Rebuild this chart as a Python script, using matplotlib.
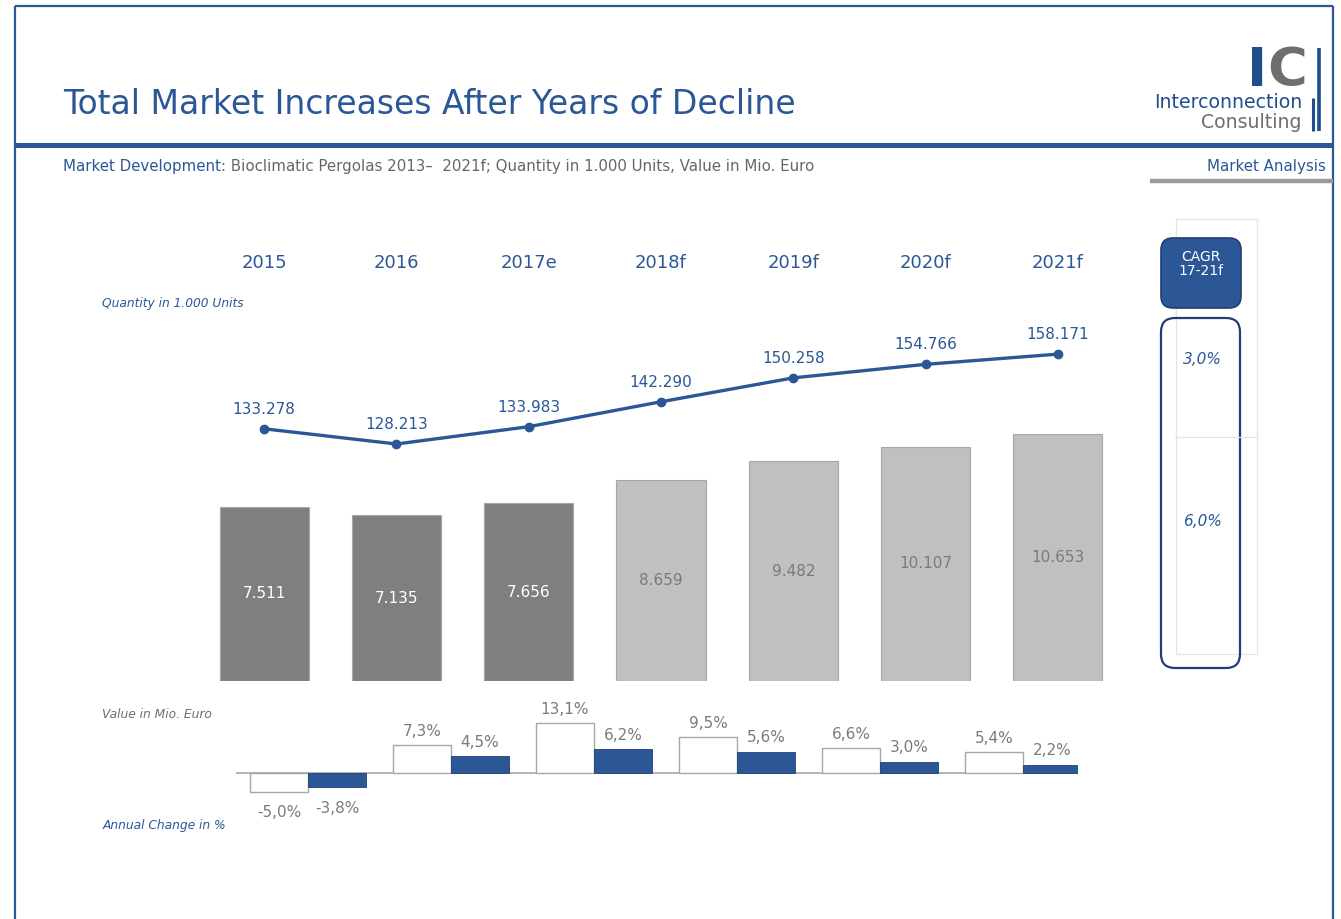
import matplotlib
matplotlib.use("Agg")
import matplotlib.pyplot as plt
from matplotlib.patches import Rectangle, FancyBboxPatch
import numpy as np

# ---------------- data ----------------
years = ["2015", "2016", "2017e", "2018f", "2019f", "2020f", "2021f"]
quantity = [133.278, 128.213, 133.983, 142.290, 150.258, 154.766, 158.171]
value = [7.511, 7.135, 7.656, 8.659, 9.482, 10.107, 10.653]
quantity_labels = ["133.278", "128.213", "133.983", "142.290", "150.258", "154.766", "158.171"]
value_labels = ["7.511", "7.135", "7.656", "8.659", "9.482", "10.107", "10.653"]
is_forecast = [False, False, False, True, True, True, True]

value_change = [-5.0, 7.3, 13.1, 9.5, 6.6, 5.4]
quantity_change = [-3.8, 4.5, 6.2, 5.6, 3.0, 2.2]

cagr_quantity = "3,0%"
cagr_value = "6,0%"

# ---------------- style ----------------
BLUE = "#2b5797"
DARKBLUE = "#1f3f73"
GRAY_TXT = "#7a7a7a"
DARK_BAR = "#7f7f7f"
LIGHT_BAR = "#c0c0c0"
W, H = 1341, 919

plt.rcParams["font.family"] = ["DejaVu Sans"]

fig = plt.figure(figsize=(W / 100, H / 100), dpi=100)


def px_axes(x0, y0, x1, y1):
    return fig.add_axes([x0 / W, 1 - y1 / H, (x1 - x0) / W, (y1 - y0) / H])


# background / decoration axes in pixel coordinates
bg = fig.add_axes([0, 0, 1, 1])
bg.set_xlim(0, W)
bg.set_ylim(H, 0)
bg.axis("off")

# frame
bg.plot([15, 15], [6, H], color=BLUE, lw=1.6, solid_capstyle="butt")
bg.plot([15, 1333], [6, 6], color=BLUE, lw=1.6, solid_capstyle="butt")
bg.plot([1333, 1333], [6, H], color=BLUE, lw=1.6, solid_capstyle="butt")
# header rule
bg.plot([15, 1333], [144.5, 144.5], color=BLUE, lw=3.6, solid_capstyle="butt")
# gray rule below "Market Analysis"
bg.plot([1150, 1333], [180.5, 180.5], color="#9a9a9a", lw=3.2, solid_capstyle="butt")

# title
bg.text(63, 104, "Total Market Increases After Years of Decline", color=BLUE,
        fontsize=23.8, ha="left", va="center")

# subtitle
t1 = bg.text(63, 166, "Market Development", color=BLUE, fontsize=10.8, ha="left", va="center")
fig.canvas.draw()
bb = t1.get_window_extent()
x_after = bb.x1
bg.annotate(": Bioclimatic Pergolas 2013\u2013  2021f; Quantity in 1.000 Units, Value in Mio. Euro",
            xy=(x_after / W, 1 - 166 / H), xycoords="figure fraction",
            color="#666666", fontsize=10.8, ha="left", va="center")
bg.text(1326, 166, "Market Analysis", color=BLUE, fontsize=10.8, ha="right", va="center")

# logo
bg.text(1257.5, 71, "I", color="#1f4e8c", fontsize=39, fontweight="bold", ha="center", va="center")
bg.text(1287, 71, "C", color="#6e6e6e", fontsize=39, fontweight="bold", ha="center", va="center")
bg.plot([1319.5, 1319.5], [48, 131], color="#1f4e8c", lw=2.6, solid_capstyle="butt")
bg.plot([1313.5, 1313.5], [98, 131], color="#1f4e8c", lw=2.2, solid_capstyle="butt")
bg.text(1302, 103, "Interconnection", color="#1f4e8c", fontsize=13.6, ha="right", va="center")
bg.text(1302, 122, "Consulting", color="#6e6e6e", fontsize=13.6, ha="right", va="center")

# side labels
bg.text(102, 304, "Quantity in 1.000 Units", color=BLUE, fontsize=8.8, style="italic",
        ha="left", va="center")
bg.text(102, 714, "Value in Mio. Euro", color="#6e6e6e", fontsize=8.8, style="italic",
        ha="left", va="center")
bg.text(103, 825, "Annual Change in %", color=BLUE, fontsize=8.8, style="italic",
        ha="left", va="center")

# CAGR panel
bg.add_patch(Rectangle((1176, 219), 81, 435, fill=False, edgecolor="#e4e4e4", lw=0.9))
bg.plot([1176, 1257], [437, 437], color="#e4e4e4", lw=0.9)
bg.add_patch(FancyBboxPatch((1161, 238), 80, 70, boxstyle="round,pad=0,rounding_size=12",
                            facecolor=BLUE, edgecolor=DARKBLUE, lw=1.2))
bg.text(1201, 264, "CAGR\n17-21f", color="white", fontsize=10, ha="center", va="center",
        linespacing=1.0)
bg.add_patch(FancyBboxPatch((1161, 318), 79, 350, boxstyle="round,pad=0,rounding_size=14",
                            facecolor="none", edgecolor=DARKBLUE, lw=1.6))
bg.text(1202, 360, cagr_quantity, color=BLUE, fontsize=11, style="italic", ha="center", va="center")
bg.text(1202, 522, cagr_value, color=BLUE, fontsize=11, style="italic", ha="center", va="center")

# ---------------- main chart ----------------
ax = px_axes(198, 240, 1124, 681)
ax.patch.set_alpha(0)
x = np.arange(len(years))
bar_colors = [LIGHT_BAR if f else DARK_BAR for f in is_forecast]
ax.bar(x, value, width=0.673, color=bar_colors, edgecolor="#a6a6a6", linewidth=0.8, zorder=2)
ax.set_xlim(-0.5, len(years) - 0.5)
ax.set_ylim(0, 441 / 23.2)
ax.axis("off")
for xi, v, lab, f in zip(x, value, value_labels, is_forecast):
    ax.text(xi, v / 2, lab, color=("#7a7a7a" if f else "white"), fontsize=11,
            ha="center", va="center", zorder=3)
for xi, yl in zip(x, years):
    ax.text(xi, (681 - 263) / 23.2, yl, color=BLUE, fontsize=13, ha="center", va="center")

ax2 = ax.twinx()
ax2.patch.set_alpha(0)
ax2.plot(x, quantity, color=BLUE, lw=2.4, marker="o", markersize=6, zorder=4)
ax2.set_ylim(128.213 - (681 - 444) / 3.0, 128.213 + (444 - 240) / 3.0)
ax2.set_xlim(-0.5, len(years) - 0.5)
ax2.axis("off")
for xi, q, lab in zip(x, quantity, quantity_labels):
    ax2.annotate(lab, (xi, q), xytext=(0, 14), textcoords="offset points",
                 color=BLUE, fontsize=11, ha="center", va="center")

# ---------------- annual change ----------------
axc = px_axes(236, 700, 1078, 830)
axc.patch.set_alpha(0)
g = np.arange(len(value_change))
bw = 58 / 143
axc.bar(g - bw / 2, value_change, width=bw, color="white", edgecolor="#a6a6a6", linewidth=1.0, zorder=2)
axc.bar(g + bw / 2, quantity_change, width=bw, color=BLUE, edgecolor="#1f4070", linewidth=0.6, zorder=2)
axc.set_xlim((236 - 308) / 143, (1078 - 308) / 143)
axc.set_ylim(-(830 - 773) / 3.8, (773 - 700) / 3.8)
axc.axhline(0, color="#b4b4b4", lw=1.4, zorder=1)
axc.axis("off")


def fmt(v):
    return f"{v:.1f}".replace(".", ",") + "%"


for gi, vc, qc in zip(g, value_change, quantity_change):
    for xx, vv in ((gi - bw / 2, vc), (gi + bw / 2, qc)):
        off = 10 if vv >= 0 else -15
        axc.annotate(fmt(vv), (xx, vv), xytext=(0, off), textcoords="offset points",
                     color="#7a7a7a", fontsize=11, ha="center", va="center")

fig.savefig("out.png", dpi=100)
